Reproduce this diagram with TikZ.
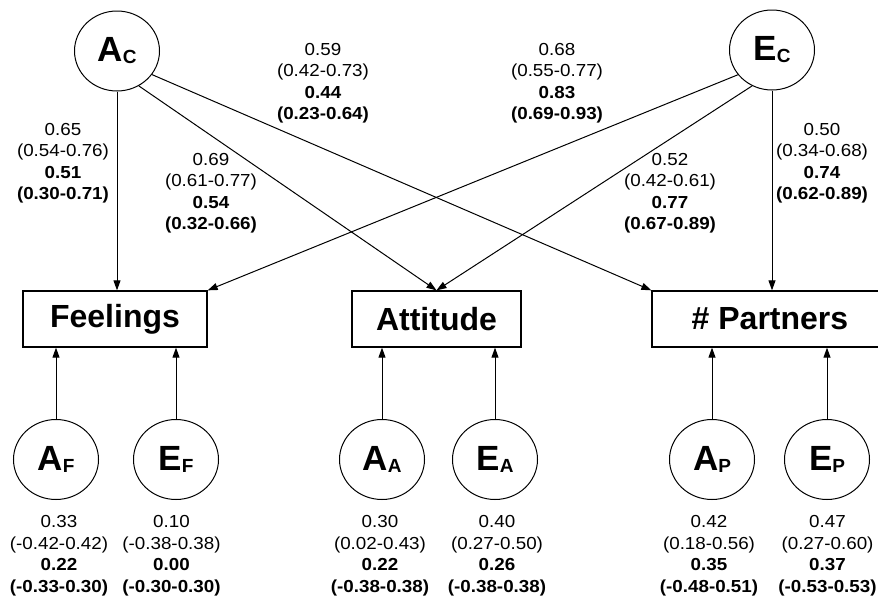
\documentclass[tikz,border=0pt]{standalone}
\usepackage{fontspec}
\setmainfont{Liberation Sans}
\newfontfamily\labfont[FakeStretch=1.08]{Liberation Sans}
\usetikzlibrary{arrows.meta,shapes.geometric}
\tikzset{
  latent/.style={ellipse, draw, line width=1pt, minimum width=85pt, minimum height=80pt, inner sep=0pt},
  obsbox/.style={rectangle, draw, line width=1.3pt, minimum height=56pt, inner sep=0pt,
    font=\fontsize{32}{32}\selectfont\bfseries},
  path/.style={line width=1pt, -{Triangle[length=10pt,width=7pt]}},
  coef/.style={align=center, inner sep=0pt, font=\labfont\fontsize{17.4}{21.5}\selectfont}
}
\newcommand{\lv}[2]{{\fontsize{35}{35}\selectfont\bfseries #1\raisebox{-2pt}{\fontsize{19}{19}\selectfont #2}}}
\newcommand{\cf}[4]{#1\\#2\\\textbf{#3}\\\textbf{#4}}
\begin{document}
\begin{tikzpicture}[x=1pt,y=-1pt]
\useasboundingbox (0,0) rectangle (878,603);
\clip (0,0) rectangle (878,603);
\fill[white] (0,0) rectangle (878,603);

% latent common factors
\node[latent] (AC) at (117,51) {\lv{A}{C}};
\node[latent] (EC) at (772,50) {\lv{E}{C}};

% observed variables
\node[obsbox, minimum width=184pt] (Feel) at (115,319) {Feelings};
\node[obsbox, minimum width=169pt] (Att) at (436.5,319) {Attitude};
\node[obsbox, minimum width=236pt] (Part) at (770,319) {\# Partners};

% specific latent factors
\node[latent] (AF) at (56,459.5) {\lv{A}{F}};
\node[latent] (EF) at (176,459.5) {\lv{E}{F}};
\node[latent] (AA) at (382,459.5) {\lv{A}{A}};
\node[latent] (EA) at (495,459.5) {\lv{E}{A}};
\node[latent] (AP) at (712,459.5) {\lv{A}{P}};
\node[latent] (EP) at (827,459.5) {\lv{E}{P}};

% paths from common factors
\draw[path] (AC.south) -- (AC.south |- Feel.north);
\draw[path] (AC.-58) -- (Att.north);
\draw[path] (AC.-34) -- (Part.north west);
\draw[path] (EC.-144.5) -- (Feel.north east);
\draw[path] (EC.-119) -- (Att.north);
\draw[path] (EC.south) -- (EC.south |- Part.north);

% paths from specific factors
\draw[path] (AF.north) -- (AF.north |- Feel.south);
\draw[path] (EF.north) -- (EF.north |- Feel.south);
\draw[path] (AA.north) -- (AA.north |- Att.south);
\draw[path] (EA.north) -- (EA.north |- Att.south);
\draw[path] (AP.north) -- (AP.north |- Part.south);
\draw[path] (EP.north) -- (EP.north |- Part.south);

% coefficients, common paths
\node[coef] (c1) at (63,163) {\cf{0.65}{(0.54-0.76)}{0.51}{(0.30-0.71)}};
\node[coef] (c2) at (211,193) {\cf{0.69}{(0.61-0.77)}{0.54}{(0.32-0.66)}};
\node[coef] (c3) at (323,83) {\cf{0.59}{(0.42-0.73)}{0.44}{(0.23-0.64)}};
\node[coef] (c4) at (557,83) {\cf{0.68}{(0.55-0.77)}{0.83}{(0.69-0.93)}};
\node[coef] (c5) at (670,193) {\cf{0.52}{(0.42-0.61)}{0.77}{(0.67-0.89)}};
\node[coef] (c6) at (822,163) {\cf{0.50}{(0.34-0.68)}{0.74}{(0.62-0.89)}};

% coefficients, specific factors
\node[coef] (s1) at (59,555.5) {\cf{0.33}{(-0.42-0.42)}{0.22}{(-0.33-0.30)}};
\node[coef] (s2) at (171.5,555.5) {\cf{0.10}{(-0.38-0.38)}{0.00}{(-0.30-0.30)}};
\node[coef] (s3) at (380,555.5) {\cf{0.30}{(0.02-0.43)}{0.22}{(-0.38-0.38)}};
\node[coef] (s4) at (497,555.5) {\cf{0.40}{(0.27-0.50)}{0.26}{(-0.38-0.38)}};
\node[coef] (s5) at (709,555.5) {\cf{0.42}{(0.18-0.56)}{0.35}{(-0.48-0.51)}};
\node[coef] (s6) at (827.5,555.5) {\cf{0.47}{(0.27-0.60)}{0.37}{(-0.53-0.53)}};
\end{tikzpicture}
\end{document}
